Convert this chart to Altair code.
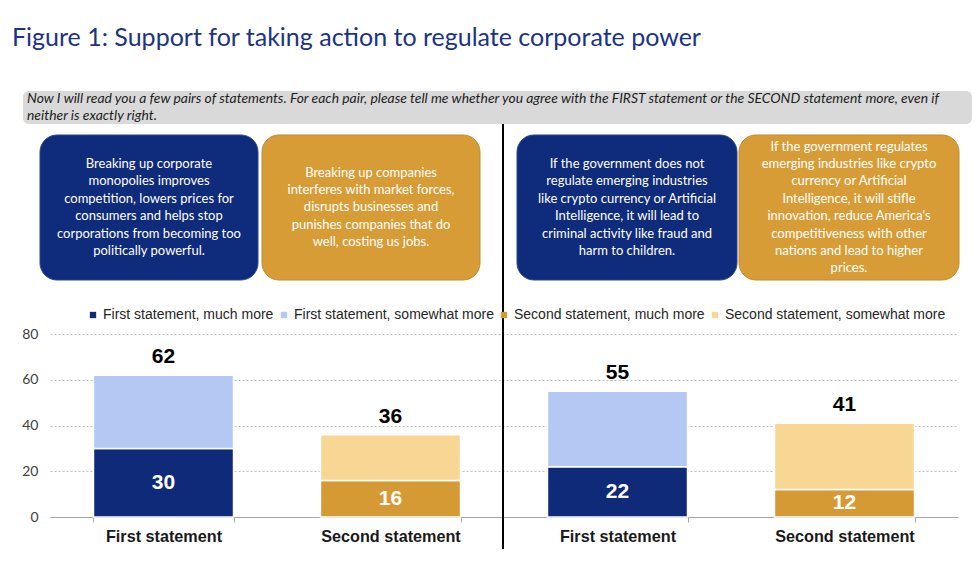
import altair as alt
import pandas as pd

title_text = "Figure 1: Support for taking action to regulate corporate power"
question_lines = [
    "Now I will read you a few pairs of statements. For each pair, please tell me whether you agree with the FIRST statement or the SECOND statement more, even if",
    "neither is exactly right.",
]
statements = [
    ["Breaking up corporate", "monopolies improves", "competition, lowers prices for",
     "consumers and helps stop", "corporations from becoming too", "politically powerful."],
    ["Breaking up companies", "interferes with market forces,", "disrupts businesses and",
     "punishes companies that do", "well, costing us jobs."],
    ["If the government does not", "regulate emerging industries", "like crypto currency or Artificial",
     "Intelligence, it will lead to", "criminal activity like fraud and", "harm to children."],
    ["If the government regulates", "emerging industries like crypto", "currency or Artificial",
     "Intelligence, it will stifle", "innovation, reduce America's", "competitiveness with other",
     "nations and lead to higher", "prices."],
]
categories = ["First statement", "Second statement", "First statement", "Second statement"]
series = ["First statement, much more", "First statement, somewhat more",
          "Second statement, much more", "Second statement, somewhat more"]
much = [30, 16, 22, 12]
somewhat = [32, 20, 33, 29]
totals = [62, 36, 55, 41]

colors = ["#102a7a", "#b4c8f4", "#d59a33", "#f8d794"]

cat_ids = [f"{c}|{i}" for i, c in enumerate(categories)]
rows = []
for i, cid in enumerate(cat_ids):
    first = i % 2 == 0
    rows.append({"cat": cid, "series": series[0] if first else series[2], "value": much[i], "ord": 0})
    rows.append({"cat": cid, "series": series[1] if first else series[3], "value": somewhat[i], "ord": 1})
df = pd.DataFrame(rows)
lab = pd.DataFrame({"cat": cat_ids, "much": much, "mid": [m / 2 for m in much], "total": totals})

W, H = 908, 183
xenc = alt.X(
    "cat:N", sort=cat_ids,
    scale=alt.Scale(paddingInner=0.383, paddingOuter=0.1915),
    axis=alt.Axis(
        title=None, labelAngle=0, labelExpr="split(datum.label, '|')[0]",
        labelFont="Liberation Sans", labelFontWeight="bold", labelFontSize=16.2,
        labelColor="#1a1a1a", tickBand="extent", tickSize=5, tickColor="#a6a6a6",
        domainColor="#a6a6a6", grid=False, labelPadding=6,
    ),
)
yscale = alt.Scale(domain=[0, 80], nice=False)

bars = alt.Chart(df).mark_bar(stroke="white", strokeWidth=1.5).encode(
    x=xenc,
    y=alt.Y("value:Q", stack="zero", scale=yscale,
            axis=alt.Axis(title=None, values=[0, 20, 40, 60, 80], ticks=False, domain=False,
                          grid=True, gridDash=[2, 2], gridColor="#bfbfbf",
                          labelFont="Lato", labelFontSize=14, labelColor="#404040",
                          labelPadding=12)),
    color=alt.Color("series:N", scale=alt.Scale(domain=series, range=colors),
                    legend=alt.Legend(orient="none", legendX=36, legendY=-26,
                                      direction="horizontal", title=None, symbolType="square",
                                      symbolSize=40, symbolStrokeWidth=0, labelLimit=400,
                                      labelFont="Liberation Sans", labelFontSize=14,
                                      labelColor="#262626", columnPadding=3, labelOffset=3)),
    order=alt.Order("ord:Q"),
)

inner = alt.Chart(lab).mark_text(font="Liberation Sans", fontWeight="bold", fontSize=21,
                                 color="white", baseline="middle").encode(
    x=alt.X("cat:N", sort=cat_ids), y=alt.Y("mid:Q", scale=yscale), text="much:Q")
outer = alt.Chart(lab).mark_text(font="Liberation Sans", fontWeight="bold", fontSize=21,
                                 color="black", baseline="middle", dy=-18).encode(
    x=alt.X("cat:N", sort=cat_ids), y=alt.Y("total:Q", scale=yscale), text="total:Q")

one = pd.DataFrame({"t": [title_text]})
title = alt.Chart(one).mark_text(font="Lato", fontSize=25, color="#1c3484", align="left",
                                 baseline="middle").encode(
    text="t:N", x=alt.value(-38), y=alt.value(-296))

qbox = alt.Chart(one).mark_rect(color="#d9d9d9", cornerRadius=6).encode(
    x=alt.value(-27), x2=alt.value(922), y=alt.value(-243), y2=alt.value(-210))
qtext = alt.Chart(pd.DataFrame({"t": ["\n".join(question_lines)]})).mark_text(
    font="Lato", fontStyle="italic", fontSize=13.9, color="#1e1e1e", align="left",
    baseline="middle", lineBreak="\n", lineHeight=16.5).encode(
    text="t:N", x=alt.value(-23), y=alt.value(-235))

vline = alt.Chart(one).mark_rule(color="black", strokeWidth=2).encode(
    x=alt.value(453), y=alt.value(-210), y2=alt.value(215))

box_x = [(-10, 208), (212, 430), (467, 687), (689, 909)]
box_fill = ["#0f2b7b", "#d89c36", "#0f2b7b", "#d89c36"]
box_stroke = ["#2a4690", "#c08a2c", "#2a4690", "#c08a2c"]
LH = 17.4
CENTER = -126.5
layers = [title, qbox, qtext]
for i, (x1, x2) in enumerate(box_x):
    n = len(statements[i])
    layers.append(alt.Chart(one).mark_rect(color=box_fill[i], stroke=box_stroke[i], strokeWidth=1,
                                           cornerRadius=17).encode(
        x=alt.value(x1), x2=alt.value(x2), y=alt.value(-199), y2=alt.value(-54)))
    layers.append(alt.Chart(pd.DataFrame({"t": ["\n".join(statements[i])]})).mark_text(
        font="Lato", fontSize=13, color="white", align="center", baseline="middle",
        lineBreak="\n", lineHeight=LH).encode(
        text="t:N", x=alt.value((x1 + x2) / 2), y=alt.value(CENTER - (n - 1) * LH / 2)))

chart = alt.layer(bars, inner, outer, vline, *layers).properties(
    width=W, height=H,
    padding={"left": 50, "top": 334, "right": 22, "bottom": 65},
    autosize=alt.AutoSizeParams(type="none"),
    background="white",
).configure_view(stroke=None)

chart.save("out.html", embed_options={"renderer": "svg", "actions": False})
